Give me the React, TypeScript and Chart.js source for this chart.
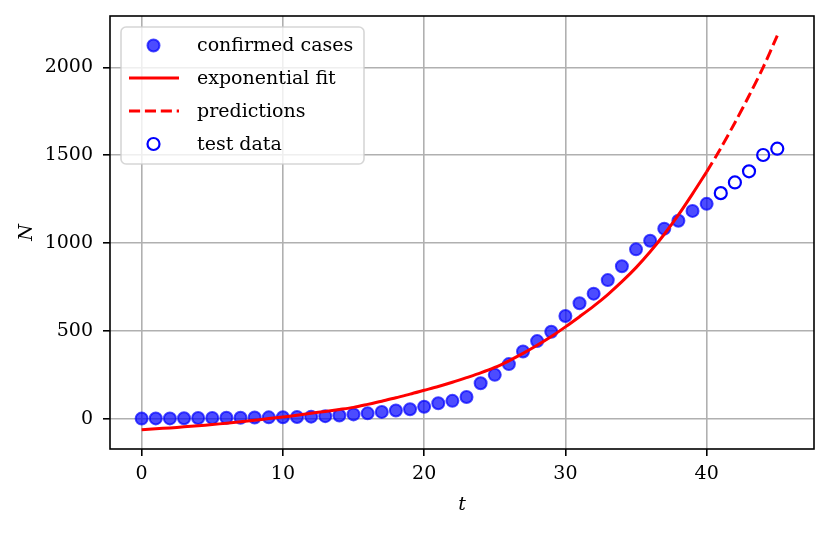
import { useEffect, useRef } from 'react';
import { Chart, registerables, Plugin } from 'chart.js';

Chart.register(...registerables);

// confirmed cases, t = 0..40
const confirmedCases = [
  1, 2, 2, 3, 4, 5, 6, 6, 7, 8,
  9, 10, 12, 15, 19, 25, 31, 39, 47, 54,
  68, 88, 102, 124, 202, 250, 311, 383, 442, 495,
  585, 657, 712, 789, 868, 964, 1013, 1082, 1127, 1183,
  1223,
];

// held-out test data
const testT = [41, 42, 43, 44, 45];
const testCases = [1284, 1345, 1408, 1501, 1537];

// exponential fit, t = 0..40
const fitValues = [
  -62, -57, -52, -46, -40, -33, -25, -17, -8, 1,
  10, 20, 31, 42, 53, 65, 82, 100, 120, 140,
  162, 184, 208, 234, 261, 292, 330, 372, 418, 468,
  523, 581, 641, 707, 780, 860, 950, 1050, 1160, 1280,
  1405,
];

// predictions, t = 40..45
const predT = [40, 41, 42, 43, 44, 45];
const predValues = [1405, 1540, 1685, 1838, 2000, 2180];

const xTicks = [0, 10, 20, 30, 40];
const yTicks = [0, 500, 1000, 1500, 2000];

const legendLabels = ['confirmed cases', 'exponential fit', 'predictions', 'test data'];

const FONT = 'DejaVu Serif';
const BLUE_A = 'rgba(0, 0, 255, 0.7)';

const frameAndLegend: Plugin = {
  id: 'frameAndLegend',
  afterDatasetsDraw(chart) {
    const { ctx, chartArea } = chart;
    ctx.save();
    // full box of spines
    ctx.strokeStyle = '#000';
    ctx.lineWidth = 1.6;
    ctx.strokeRect(chartArea.left, chartArea.top, chartArea.right - chartArea.left, chartArea.bottom - chartArea.top);

    // legend box
    const bx = 121, by = 27, bw = 243, bh = 137, r = 5;
    ctx.beginPath();
    ctx.moveTo(bx + r, by);
    ctx.arcTo(bx + bw, by, bx + bw, by + bh, r);
    ctx.arcTo(bx + bw, by + bh, bx, by + bh, r);
    ctx.arcTo(bx, by + bh, bx, by, r);
    ctx.arcTo(bx, by, bx + bw, by, r);
    ctx.closePath();
    ctx.fillStyle = 'rgba(255,255,255,0.8)';
    ctx.fill();
    ctx.strokeStyle = 'rgba(204,204,204,0.8)';
    ctx.lineWidth = 1.6;
    ctx.stroke();

    const rows = [45.5, 78, 111, 144];
    const mx = 153.5, lx0 = 129, lx1 = 179, tx = 197;

    // confirmed marker
    ctx.beginPath();
    ctx.arc(mx, rows[0], 6, 0, Math.PI * 2);
    ctx.fillStyle = BLUE_A;
    ctx.fill();
    ctx.strokeStyle = BLUE_A;
    ctx.lineWidth = 2;
    ctx.stroke();

    // fit line
    ctx.beginPath();
    ctx.moveTo(lx0, rows[1]);
    ctx.lineTo(lx1, rows[1]);
    ctx.strokeStyle = 'red';
    ctx.lineWidth = 3;
    ctx.stroke();

    // predictions dashed
    ctx.beginPath();
    ctx.setLineDash([11.1, 4.8]);
    ctx.moveTo(lx0, rows[2]);
    ctx.lineTo(lx1, rows[2]);
    ctx.stroke();
    ctx.setLineDash([]);

    // test marker
    ctx.beginPath();
    ctx.arc(mx, rows[3], 6, 0, Math.PI * 2);
    ctx.strokeStyle = 'blue';
    ctx.lineWidth = 2.2;
    ctx.stroke();

    ctx.fillStyle = '#000';
    ctx.font = `19px "${FONT}"`;
    ctx.textBaseline = 'middle';
    ctx.textAlign = 'left';
    legendLabels.forEach((label, i) => ctx.fillText(label, tx, rows[i] + 1));
    ctx.restore();
  },
};

export default function App() {
  const canvasRef = useRef<HTMLCanvasElement>(null);
  const chartRef = useRef<Chart | null>(null);

  useEffect(() => {
    document.body.style.margin = '0';
    if (!canvasRef.current) return;
    const ctx = canvasRef.current.getContext('2d');
    if (!ctx) return;
    if (chartRef.current) chartRef.current.destroy();

    const tickFont = { family: FONT, size: 19 };

    chartRef.current = new Chart(ctx, {
      type: 'scatter',
      data: {
        datasets: [
          {
            type: 'line',
            label: legendLabels[1],
            data: fitValues.map((v, i) => ({ x: i, y: v })),
            borderColor: 'red',
            borderWidth: 3,
            pointRadius: 0,
            tension: 0.3,
            fill: false,
            order: 0,
          },
          {
            type: 'line',
            label: legendLabels[2],
            data: predValues.map((v, i) => ({ x: predT[i], y: v })),
            borderColor: 'red',
            borderWidth: 3,
            borderDash: [11.1, 4.8],
            pointRadius: 0,
            tension: 0.3,
            fill: false,
            order: 1,
          },
          {
            label: legendLabels[3],
            data: testCases.map((v, i) => ({ x: testT[i], y: v })),
            backgroundColor: 'rgba(0,0,0,0)',
            borderColor: 'blue',
            borderWidth: 2.2,
            pointRadius: 6,
            order: 2,
          },
          {
            label: legendLabels[0],
            data: confirmedCases.map((v, i) => ({ x: i, y: v })),
            backgroundColor: BLUE_A,
            borderColor: BLUE_A,
            borderWidth: 2,
            pointRadius: 6,
            order: 3,
          },
        ],
      },
      options: {
        responsive: true,
        maintainAspectRatio: false,
        animation: false,
        layout: { padding: { left: 0, top: 16, right: 17, bottom: 0 } },
        plugins: {
          legend: { display: false },
          tooltip: { enabled: false },
        },
        scales: {
          x: {
            type: 'linear',
            min: -2.24,
            max: 47.6,
            afterBuildTicks: (s) => {
              s.ticks = xTicks.map((v) => ({ value: v }));
            },
            afterFit: (s) => {
              s.height = 84;
              s.paddingLeft = 0;
              s.paddingRight = 0;
            },
            ticks: {
              font: tickFont,
              color: '#000',
              padding: 7,
              maxRotation: 0,
              autoSkip: false,
              callback: (v) => String(v),
            },
            grid: { color: '#b0b0b0', lineWidth: 1.6, tickColor: '#000', tickLength: 7, tickWidth: 1.6 },
            border: { display: false },
            title: {
              display: true,
              text: 't',
              color: '#000',
              font: { family: FONT, size: 19, style: 'italic' },
              padding: { top: 0, bottom: 17 },
            },
          },
          y: {
            type: 'linear',
            min: -172,
            max: 2292,
            afterBuildTicks: (s) => {
              s.ticks = yTicks.map((v) => ({ value: v }));
            },
            afterFit: (s) => {
              s.width = 110;
              s.paddingTop = 0;
              s.paddingBottom = 0;
            },
            ticks: {
              font: tickFont,
              color: '#000',
              padding: 10,
              autoSkip: false,
              callback: (v) => String(v),
            },
            grid: { color: '#b0b0b0', lineWidth: 1.6, tickColor: '#000', tickLength: 7, tickWidth: 1.6 },
            border: { display: false },
            title: {
              display: true,
              text: 'N',
              color: '#000',
              font: { family: FONT, size: 19, style: 'italic' },
              padding: { top: 16, bottom: 0 },
            },
          },
        },
      },
      plugins: [frameAndLegend],
    });

    return () => {
      if (chartRef.current) {
        chartRef.current.destroy();
        chartRef.current = null;
      }
    };
  }, []);

  return (
    <div style={{ width: 831, height: 533, position: 'relative', background: '#fff' }}>
      <canvas ref={canvasRef} />
    </div>
  );
}
